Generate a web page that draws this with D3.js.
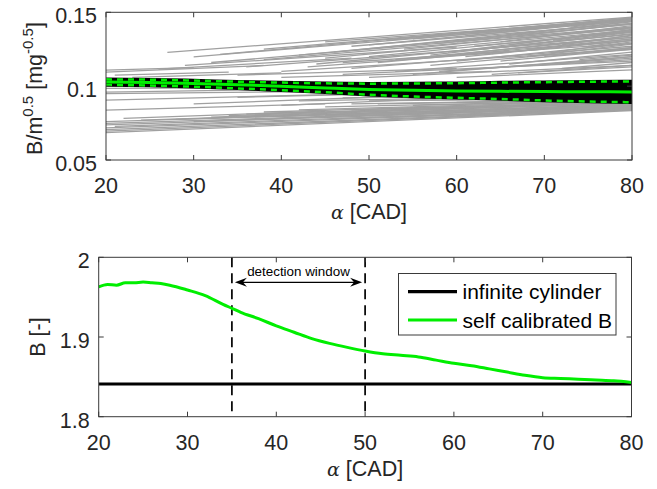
<!DOCTYPE html>
<html>
<head>
<meta charset="utf-8">
<script src="https://cdn.jsdelivr.net/npm/d3@7"></script>
<style>
  html, body { margin: 0; padding: 0; background: #fff; }
  svg { display: block; }
  text { font-family: "Liberation Sans", Arial, Helvetica, sans-serif; fill: #262626; }
</style>
</head>
<body>
<svg id="chart" width="657" height="489"></svg>
<script>
// ---------- data ----------
const xTicks = [20, 30, 40, 50, 60, 70, 80];
const topYTicks = [0.05, 0.1, 0.15];
const topYTickLabels = ["0.05", "0.1", "0.15"];
const botYTicks = [1.8, 1.9, 2.0];
const botYTickLabels = ["1.8", "1.9", "2"];

// individual normalised traces: [alphaStart, valueStart, alphaEnd, valueEnd]
const upperTraces = [
  [27,0.1228,80,0.1468],[30,0.1198,80,0.1445],[20,0.1108,30,0.1125],[20,0.1095,38,0.1140],
  [21,0.1075,34,0.1095],[23,0.1060,40,0.1090],[26,0.1115,48,0.1190],[29,0.1140,60,0.1265],
  [32,0.1160,80,0.1400],[33,0.1215,72,0.1420],[36,0.1130,80,0.1330],[38,0.1250,80,0.1460],
  [38,0.1180,80,0.1390],[40,0.1100,80,0.1250],[42,0.1210,80,0.1420],[44,0.1150,80,0.1350],
  [45,0.1300,80,0.1452],[46,0.1230,80,0.1435],[47,0.1080,80,0.1170],[48,0.1270,80,0.1425],
  [48,0.1120,80,0.1270],[50,0.1200,80,0.1370],[50,0.1060,80,0.1140],[51,0.1160,80,0.1320],
  [52,0.1310,80,0.1460],[53,0.1100,80,0.1215],[54,0.1250,80,0.1400],[55,0.1080,80,0.1200],
  [56,0.1190,80,0.1340],[57,0.1140,80,0.1260],[58,0.1290,80,0.1440],[59,0.1230,80,0.1380],
  [60,0.1060,80,0.1110],[60,0.1170,80,0.1290],[61,0.1340,80,0.1455],[62,0.1270,80,0.1370],
  [63,0.1120,80,0.1180],[64,0.1220,80,0.1320],[65,0.1300,80,0.1410],[66,0.1380,80,0.1450],
  [66,0.1150,80,0.1230],[67,0.1090,80,0.1130],[68,0.1250,80,0.1310],[69,0.1330,80,0.1395],
  [70,0.1200,80,0.1260],[70,0.1400,80,0.1440],[72,0.1280,80,0.1345],[72,0.1120,80,0.1160],
  [74,0.1360,80,0.1400],[74,0.1180,80,0.1210],[40,0.1060,64,0.1100],[43,0.1130,70,0.1250],
  [35,0.1075,60,0.1120],[50,0.1280,80,0.1445],[53,0.1180,80,0.1330],[55,0.1320,80,0.1455],
  [57,0.1210,80,0.1365],[58,0.1100,80,0.1190],[60,0.1300,80,0.1420],[61,0.1200,80,0.1310],
  [62,0.1360,80,0.1462],[63,0.1250,80,0.1355],[64,0.1080,80,0.1140],[65,0.1170,80,0.1250],
  [66,0.1280,80,0.1385],[67,0.1340,80,0.1425],[68,0.1200,80,0.1285],[69,0.1140,80,0.1200],
  [71,0.1310,80,0.1375],[71,0.1230,80,0.1300],[73,0.1400,80,0.1450],[75,0.1270,80,0.1310],
  [76,0.1340,80,0.1380],[45,0.1190,80,0.1380],[47,0.1160,80,0.1290]
];
const lowerTraces = [
  [20,0.0985,45,0.0990],[20,0.0960,38,0.0975],[20,0.0950,55,0.0970],[20,0.0905,50,0.0950],
  [20,0.0838,45,0.0880],[22,0.0782,45,0.0830],[20,0.0760,80,0.0870],[20,0.0748,80,0.0862],
  [20,0.0738,80,0.0856],[21,0.0728,80,0.0852],[20,0.0718,80,0.0848],[20,0.0705,80,0.0843],
  [20,0.0695,80,0.0840],[20,0.0685,80,0.0835],[24,0.0770,80,0.0875],[28,0.0775,80,0.0878],
  [30,0.0760,80,0.0866],[32,0.0790,80,0.0885],[34,0.0800,80,0.0888],[36,0.0810,80,0.0890],
  [38,0.0825,80,0.0895],[40,0.0795,80,0.0870],[42,0.0840,80,0.0900],[44,0.0820,80,0.0890],
  [45,0.0860,80,0.0905],[46,0.0780,80,0.0850],[48,0.0880,80,0.0910],[50,0.0800,80,0.0860],
  [50,0.0900,80,0.0920],[52,0.0850,80,0.0890],[53,0.0790,80,0.0850],[55,0.0870,80,0.0900],
  [56,0.0905,80,0.0920],[58,0.0820,80,0.0860],[60,0.0890,80,0.0910],[62,0.0810,80,0.0850],
  [64,0.0860,80,0.0885],[40,0.0870,60,0.0920],[30,0.0880,55,0.0935],[35,0.0925,60,0.0960],
  [45,0.0800,80,0.0865],[48,0.0840,80,0.0885],[51,0.0880,80,0.0905],[54,0.0820,80,0.0870],
  [57,0.0850,80,0.0880],[60,0.0800,80,0.0845],[63,0.0880,80,0.0900],[66,0.0830,80,0.0860],
  [42,0.0900,70,0.0930],[47,0.0920,70,0.0940]
];

// mean and spread of the normalised traces
const bandAlpha = [20, 25, 30, 35, 40, 45, 50, 55, 60, 65, 70, 75, 80];
const bandMean  = [0.1028, 0.1024, 0.1018, 0.1010, 0.0999, 0.0988, 0.0978, 0.0972, 0.0968, 0.0965, 0.0963, 0.0962, 0.0961];
const bandUpper = [0.1046, 0.1044, 0.1038, 0.1030, 0.1024, 0.1019, 0.1017, 0.1018, 0.1020, 0.1024, 0.1027, 0.1030, 0.1032];
const bandLower = [0.1008, 0.1004, 0.0996, 0.0985, 0.0972, 0.0959, 0.0942, 0.0930, 0.0921, 0.0913, 0.0903, 0.0896, 0.0891];

// B coefficient vs crank angle
const calAlpha = [20,21,22,23,24,25,26,27,28,30,32,34,35,36,38,40,42,44,46,48,50,52,54,56,58,60,62,64,66,68,70,72,74,76,78,80];
const calB     = [1.963,1.966,1.965,1.968,1.968,1.969,1.968,1.967,1.965,1.959,1.952,1.941,1.936,1.931,1.923,1.914,1.906,1.898,1.892,1.887,1.8825,1.879,1.877,1.875,1.871,1.867,1.864,1.860,1.856,1.852,1.849,1.848,1.847,1.846,1.845,1.843];
const cylinderB = 1.841;
const windowStart = 35, windowEnd = 50;
const legendLabels = ["infinite cylinder", "self calibrated B"];

// ---------- drawing ----------
const svg = d3.select("#chart");
const GREEN = "#00ee00";
const AXIS = "#3a3a3a";

function drawFrame(g, x, y, yTicks, yLabels, opts) {
  const [x0, x1] = x.range();
  const [y0, y1] = y.range(); // y0 bottom, y1 top
  const tl = 5;
  // ticks (inward, on all four sides)
  xTicks.forEach(t => {
    const px = x(t);
    g.append("line").attr("x1", px).attr("x2", px).attr("y1", y0).attr("y2", y0 - tl).attr("stroke", AXIS);
    g.append("line").attr("x1", px).attr("x2", px).attr("y1", y1).attr("y2", y1 + tl).attr("stroke", AXIS);
    g.append("text").attr("x", px).attr("y", y0 + 33).attr("text-anchor", "middle")
      .attr("font-size", 21.5).text(t);
  });
  yTicks.forEach((t, i) => {
    const py = y(t);
    g.append("line").attr("x1", x0).attr("x2", x0 + tl).attr("y1", py).attr("y2", py).attr("stroke", AXIS);
    g.append("line").attr("x1", x1).attr("x2", x1 - tl).attr("y1", py).attr("y2", py).attr("stroke", AXIS);
    g.append("text").attr("x", x0 - 9).attr("y", py + opts.yLabelDy).attr("text-anchor", "end")
      .attr("font-size", 21.5).text(yLabels[i]);
  });
  g.append("rect").attr("x", x0).attr("y", y1).attr("width", x1 - x0).attr("height", y0 - y1)
    .attr("fill", "none").attr("stroke", AXIS).attr("stroke-width", 1);
  // x label: alpha [CAD]
  const xl = g.append("text").attr("x", (x0 + x1) / 2).attr("y", y0 + 59)
    .attr("text-anchor", "middle").attr("font-size", 21.5);
  xl.append("tspan").attr("font-family", "'DejaVu Serif', 'Liberation Serif', serif")
    .attr("font-style", "italic").attr("font-size", 19).text("α");
  xl.append("tspan").text(" [CAD]");
}

// ----- top panel -----
const xTop = d3.scaleLinear().domain([20, 80]).range([106, 632]);
const yTop = d3.scaleLinear().domain([0.05, 0.15]).range([160, 12.3]);
const gTop = svg.append("g");
svg.append("clipPath").attr("id", "clipTop").append("rect")
  .attr("x", 106).attr("y", 12.3).attr("width", 526).attr("height", 147.7);
const gTopData = gTop.append("g").attr("clip-path", "url(#clipTop)");

gTopData.selectAll("line.trace").data(upperTraces.concat(lowerTraces)).join("line")
  .attr("class", "trace")
  .attr("x1", d => xTop(d[0])).attr("y1", d => yTop(d[1]))
  .attr("x2", d => xTop(d[2])).attr("y2", d => yTop(d[3]))
  .attr("stroke", "#a0a0a0").attr("stroke-width", 1.3);

const bandArea = d3.area()
  .x((d, i) => xTop(bandAlpha[i]))
  .y0((d, i) => yTop(bandLower[i]))
  .y1((d, i) => yTop(bandUpper[i]))
  .curve(d3.curveMonotoneX);
gTopData.append("path").datum(bandAlpha).attr("d", bandArea)
  .attr("fill", "#000").attr("stroke", "#000").attr("stroke-width", 3.5);

const bandLine = arr => d3.line().x((d, i) => xTop(bandAlpha[i])).y((d, i) => yTop(arr[i])).curve(d3.curveMonotoneX)(arr);
gTopData.append("path").attr("d", bandLine(bandUpper)).attr("fill", "none")
  .attr("stroke", GREEN).attr("stroke-width", 2.5).attr("stroke-dasharray", "6,5");
gTopData.append("path").attr("d", bandLine(bandLower)).attr("fill", "none")
  .attr("stroke", GREEN).attr("stroke-width", 2.5).attr("stroke-dasharray", "6,5");
gTopData.append("path").attr("d", bandLine(bandMean)).attr("fill", "none")
  .attr("stroke", GREEN).attr("stroke-width", 3);

drawFrame(gTop, xTop, yTop, topYTicks, topYTickLabels, { yLabelDy: 10.5 });

// y label: B/m^0.5 [mg^-0.5]
const ylTop = gTop.append("text").attr("transform", "translate(42,88.5) rotate(-90)")
  .attr("text-anchor", "middle").attr("font-size", 21.5);
ylTop.append("tspan").text("B/m");
ylTop.append("tspan").attr("font-size", 15).attr("dy", -9).text("0.5");
ylTop.append("tspan").attr("dy", 9).text(" [mg");
ylTop.append("tspan").attr("font-size", 15).attr("dy", -9).text("-0.5");
ylTop.append("tspan").attr("dy", 9).text("]");

// ----- bottom panel -----
const xBot = d3.scaleLinear().domain([20, 80]).range([98.7, 631.5]);
const yBot = d3.scaleLinear().domain([1.8, 2.0]).range([416.7, 257.3]);
const gBot = svg.append("g");
svg.append("clipPath").attr("id", "clipBot").append("rect")
  .attr("x", 98.7).attr("y", 257.3).attr("width", 532.8).attr("height", 159.4);
const gBotData = gBot.append("g").attr("clip-path", "url(#clipBot)");

// detection window limits
[windowStart, windowEnd].forEach(a => {
  gBotData.append("line").attr("x1", xBot(a)).attr("x2", xBot(a))
    .attr("y1", yBot.range()[1]).attr("y2", yBot.range()[0])
    .attr("stroke", "#000").attr("stroke-width", 1.7).attr("stroke-dasharray", "10,6");
});

gBotData.append("line").attr("x1", xBot(20)).attr("x2", xBot(80))
  .attr("y1", yBot(cylinderB)).attr("y2", yBot(cylinderB))
  .attr("stroke", "#000").attr("stroke-width", 3.2);

gBotData.append("path")
  .attr("d", d3.line().x((d, i) => xBot(calAlpha[i])).y(d => yBot(d)).curve(d3.curveMonotoneX)(calB))
  .attr("fill", "none").attr("stroke", GREEN).attr("stroke-width", 3);

drawFrame(gBot, xBot, yBot, botYTicks, botYTickLabels, { yLabelDy: 11 });

gBot.append("text").attr("transform", "translate(45,337) rotate(-90)")
  .attr("text-anchor", "middle").attr("font-size", 21.5).text("B [-]");

// detection window double arrow
const arrY = 282.3;
const ax0 = xBot(windowStart) + 3, ax1 = xBot(windowEnd) - 3;
gBot.append("line").attr("x1", ax0 + 4).attr("x2", ax1 - 4).attr("y1", arrY).attr("y2", arrY)
  .attr("stroke", "#000").attr("stroke-width", 1.3);
const head = (tip, dir) => `M${tip},${arrY} L${tip + dir * 12},${arrY - 4.5} L${tip + dir * 8},${arrY} L${tip + dir * 12},${arrY + 4.5} Z`;
gBot.append("path").attr("d", head(ax0, 1)).attr("fill", "#000");
gBot.append("path").attr("d", head(ax1, -1)).attr("fill", "#000");
gBot.append("text").attr("x", (xBot(windowStart) + xBot(windowEnd)) / 2).attr("y", 275.5)
  .attr("text-anchor", "middle").attr("font-size", 13.4).style("fill", "#000").text("detection window");

// legend
const lg = gBot.append("g");
lg.append("rect").attr("x", 398.5).attr("y", 273.5).attr("width", 217.5).attr("height", 61.5)
  .attr("fill", "#fff").attr("stroke", AXIS).attr("stroke-width", 1);
[["#000", 291.7], [GREEN, 320]].forEach(([c, yy], i) => {
  lg.append("line").attr("x1", 408).attr("x2", 457).attr("y1", yy).attr("y2", yy)
    .attr("stroke", c).attr("stroke-width", 3.2);
  lg.append("text").attr("x", 462.5).attr("y", yy + 7.5).attr("font-size", 21)
    .style("fill", "#000").text(legendLabels[i]);
});
</script>
</body>
</html>
